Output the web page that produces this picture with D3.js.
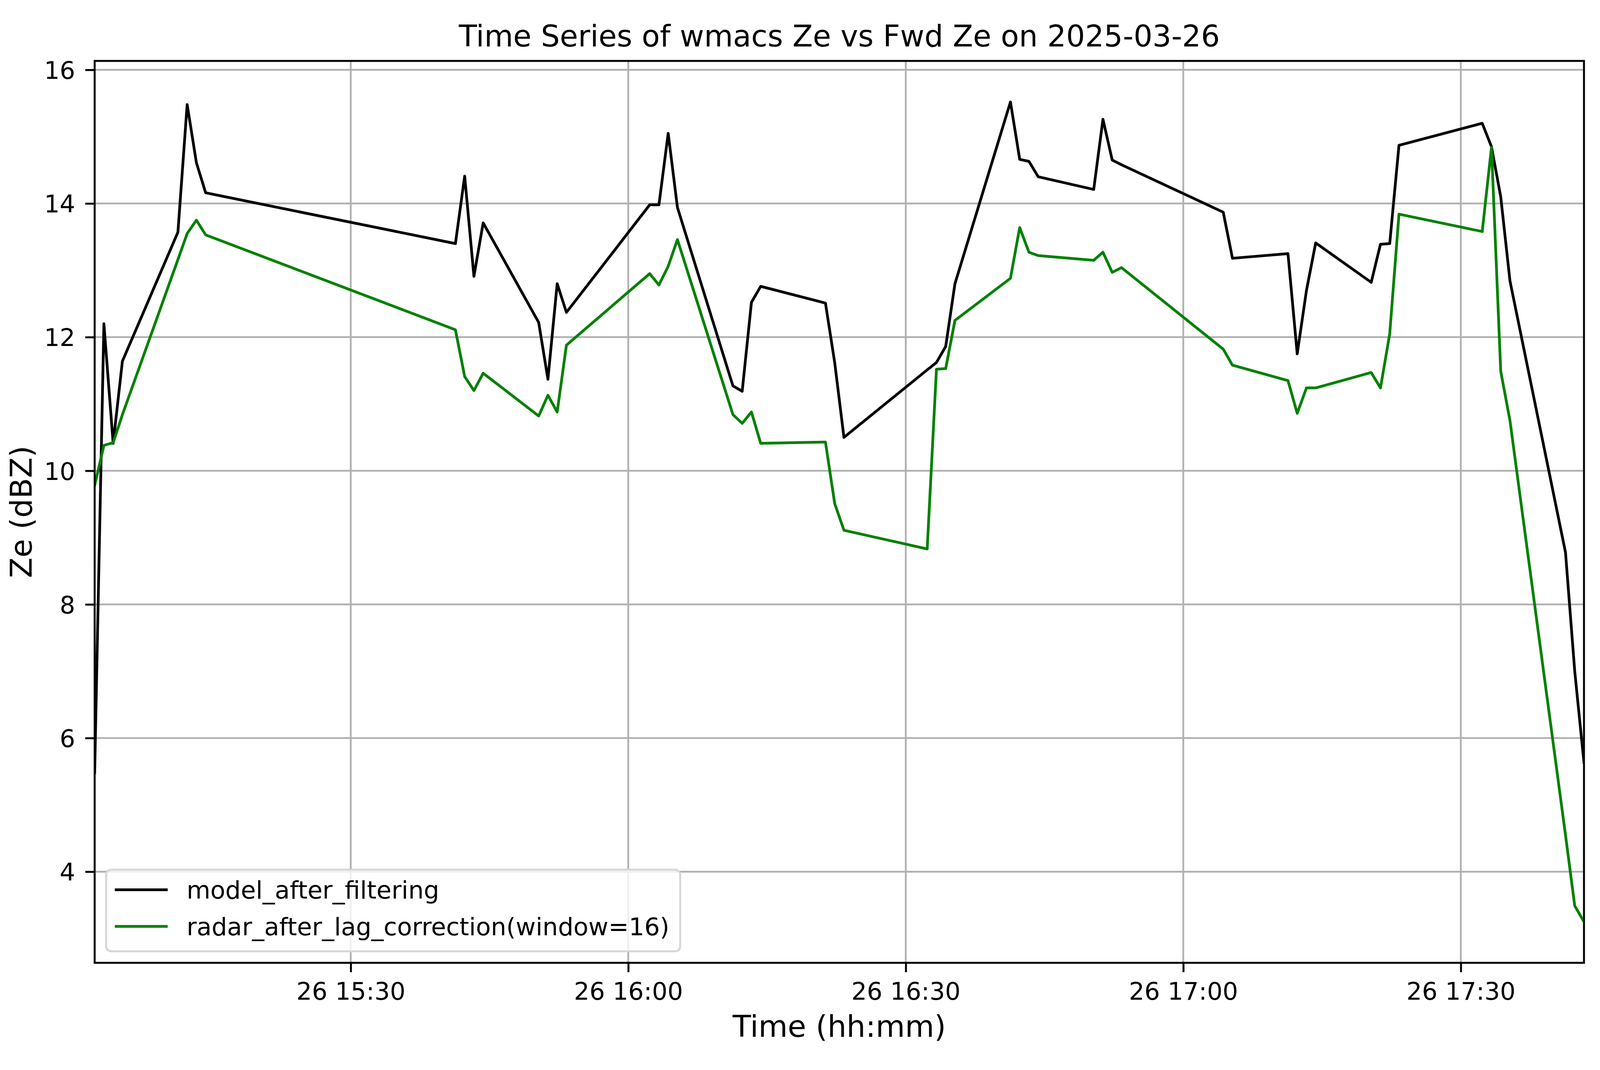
<!DOCTYPE html>
<html lang="en">

<head>
	<meta charset="UTF-8">
	<title>Time Series of wmacs Ze vs Fwd Ze on 2025-03-26</title>
	<script src="https://d3js.org/d3.v7.min.js"></script>
	<style>
		html,
		body {
			margin: 0;
			padding: 0;
			background: #fff;
			overflow: hidden;
		}

		svg {
			display: block;
		}

		svg text {
			font-family: "DejaVu Sans", sans-serif;
			fill: #000;
		}
	</style>
</head>

<body>
	<div id="chart"></div>
	<script>
		// sample times (all on 2025-03-26), shared by both series
		const times = [
			"15:02:19", "15:03:19", "15:04:19", "15:05:19", "15:11:19", "15:12:19", "15:13:19", "15:14:19",
			"15:41:19", "15:42:19", "15:43:19", "15:44:19", "15:50:19", "15:51:19", "15:52:19", "15:53:19",
			"16:02:19", "16:03:19", "16:04:19", "16:05:19", "16:11:19", "16:12:19", "16:13:19", "16:14:19",
			"16:21:19", "16:22:19", "16:23:19", "16:32:19", "16:33:19", "16:34:19", "16:35:19", "16:41:19",
			"16:42:19", "16:43:19", "16:44:19", "16:50:19", "16:51:19", "16:52:19", "16:53:19", "17:04:19",
			"17:05:19", "17:11:19", "17:12:19", "17:13:19", "17:14:19", "17:20:19", "17:21:19", "17:22:19",
			"17:23:19", "17:32:19", "17:33:19", "17:34:19", "17:35:19", "17:41:19", "17:42:19", "17:43:19"
		];

		const modelZe = [
			5.48, 12.20, 10.41, 11.64, 13.57, 15.48, 14.61, 14.16,
			13.40, 14.41, 12.91, 13.71, 12.22, 11.37, 12.80, 12.37,
			13.98, 13.98, 15.05, 13.94, 11.27, 11.19, 12.52, 12.76,
			12.51, 11.62, 10.50, 11.51, 11.62, 11.86, 12.80, 15.52,
			14.66, 14.63, 14.40, 14.21, 15.26, 14.65, 14.58, 13.87,
			13.18, 13.25, 11.75, 12.70, 13.41, 12.82, 13.39, 13.40,
			14.87, 15.20, 14.85, 14.10, 12.84, 8.78, 7.00, 5.63
		];

		const radarZe = [
			9.78, 10.38, 10.42, 10.84, 13.16, 13.55, 13.75, 13.53,
			12.11, 11.41, 11.20, 11.46, 10.82, 11.13, 10.88, 11.88,
			12.95, 12.78, 13.06, 13.46, 10.84, 10.71, 10.88, 10.41,
			10.43, 9.51, 9.11, 8.83, 11.52, 11.53, 12.25, 12.88,
			13.64, 13.27, 13.22, 13.15, 13.27, 12.97, 13.04, 11.82,
			11.58, 11.35, 10.86, 11.24, 11.24, 11.47, 11.24, 12.05,
			13.84, 13.58, 14.84, 11.49, 10.75, 4.55, 3.49, 3.25
		];

		const seriesNames = ["model_after_filtering", "radar_after_lag_correction(window=16)"];
		const seriesColors = ["#000000", "#008000"];

		const xTicks = ["15:30", "16:00", "16:30", "17:00", "17:30"];
		const yTicks = [4, 6, 8, 10, 12, 14, 16];

		// the layout was measured on a 4995 x 2740 figure; stretch it to the window
		const width = window.innerWidth || 4995;
		const height = window.innerHeight || 2740;
		const sx = width / 4995;
		const sy = height / 2740;
		const k = Math.sqrt(sx * sy); // font scale

		const tickFont = 69 * k;
		const labelFont = 85 * k;
		const titleFont = 84 * k;

		const margin = { top: 156 * sy, right: 50 * sx, bottom: 274.5 * sy, left: 295.5 * sx };
		const plotW = width - margin.left - margin.right;
		const plotH = height - margin.top - margin.bottom;

		const parseTime = d3.timeParse("%Y-%m-%d %H:%M:%S");
		const day = "2025-03-26";
		const dates = times.map(t => parseTime(`${day} ${t}`));

		const series = [modelZe, radarZe].map((vals, i) => ({
			name: seriesNames[i],
			color: seriesColors[i],
			points: vals.map((v, j) => ({ t: dates[j], v: v }))
		}));

		// x has no margin, y gets the usual 5% padding
		const x = d3.scaleTime()
			.domain(d3.extent(dates))
			.range([0, plotW]);

		const allVals = modelZe.concat(radarZe);
		const yMin = d3.min(allVals), yMax = d3.max(allVals);
		const pad = (yMax - yMin) * 0.05;
		const y = d3.scaleLinear()
			.domain([yMin - pad, yMax + pad])
			.range([plotH, 0]);

		const svg = d3.select("#chart")
			.append("svg")
			.attr("width", width)
			.attr("height", height);

		svg.append("rect")
			.attr("width", width)
			.attr("height", height)
			.attr("fill", "#fff");

		const g = svg.append("g")
			.attr("transform", `translate(${margin.left},${margin.top})`);

		g.append("clipPath")
			.attr("id", "plot-clip")
			.append("rect")
			.attr("width", plotW)
			.attr("height", plotH);

		const xTickDates = xTicks.map(t => parseTime(`${day} ${t}:00`));

		// grid
		g.append("g")
			.selectAll("line")
			.data(xTickDates)
			.enter()
			.append("line")
			.attr("x1", d => x(d))
			.attr("x2", d => x(d))
			.attr("y1", 0)
			.attr("y2", plotH)
			.attr("stroke", "#b0b0b0")
			.attr("stroke-width", 4.5);

		g.append("g")
			.selectAll("line")
			.data(yTicks)
			.enter()
			.append("line")
			.attr("x1", 0)
			.attr("x2", plotW)
			.attr("y1", d => y(d))
			.attr("y2", d => y(d))
			.attr("stroke", "#b0b0b0")
			.attr("stroke-width", 4.5);

		// series lines
		const line = d3.line()
			.x(d => x(d.t))
			.y(d => y(d.v));

		g.append("g")
			.attr("clip-path", "url(#plot-clip)")
			.selectAll("path")
			.data(series)
			.enter()
			.append("path")
			.attr("d", d => line(d.points))
			.attr("fill", "none")
			.attr("stroke", d => d.color)
			.attr("stroke-width", 7)
			.attr("stroke-linejoin", "round")
			.attr("stroke-linecap", "square");

		// axes
		const xAxis = g.append("g")
			.attr("transform", `translate(0,${plotH})`)
			.call(d3.axisBottom(x)
				.tickValues(xTickDates)
				.tickFormat(d3.timeFormat("%d %H:%M"))
				.tickSize(24)
				.tickPadding(26));

		const yAxis = g.append("g")
			.call(d3.axisLeft(y)
				.tickValues(yTicks)
				.tickFormat(d3.format("d"))
				.tickSize(24)
				.tickPadding(28.5 * k));

		[xAxis, yAxis].forEach(ax => {
			ax.select(".domain").remove();
			ax.selectAll(".tick line")
				.attr("stroke", "#000")
				.attr("stroke-width", 5);
			ax.selectAll(".tick text")
				.attr("font-size", tickFont)
				.attr("font-family", "DejaVu Sans")
				.attr("fill", "#000");
		});
		yAxis.selectAll(".tick text").attr("dy", "0.36em");

		// frame
		g.append("rect")
			.attr("width", plotW)
			.attr("height", plotH)
			.attr("fill", "none")
			.attr("stroke", "#000")
			.attr("stroke-width", 5);

		// legend, bottom left, sized from its longest label
		const legPad = 32.5 * k;
		const legH = 231 * k;
		const legend = g.append("g")
			.attr("transform", `translate(${legPad},${plotH - legPad - legH})`);

		const legBox = legend.append("rect")
			.attr("height", legH)
			.attr("rx", 14 * k)
			.attr("ry", 14 * k)
			.attr("fill", "#fff")
			.attr("fill-opacity", 0.8)
			.attr("stroke", "#d6d6d6")
			.attr("stroke-width", 5);

		const rows = legend.selectAll("g.row")
			.data(series)
			.enter()
			.append("g")
			.attr("class", "row")
			.attr("transform", (d, i) => `translate(0,${(57 + i * 103.5) * k})`);

		rows.append("line")
			.attr("x1", 24.5 * k)
			.attr("x2", 174 * k)
			.attr("stroke", d => d.color)
			.attr("stroke-width", 7);

		const legText = rows.append("text")
			.attr("x", 227.5 * k)
			.attr("y", 25 * k)
			.attr("font-size", tickFont)
			.text(d => d.name);

		let maxLen = 0;
		legText.each(function () { maxLen = Math.max(maxLen, this.getComputedTextLength()); });
		legBox.attr("width", 227.5 * k + maxLen + 30.5 * k);

		// titles
		svg.append("text")
			.attr("x", margin.left + plotW / 2)
			.attr("y", margin.top - 41 * k)
			.attr("text-anchor", "middle")
			.attr("font-size", titleFont)
			.text("Time Series of wmacs Ze vs Fwd Ze on 2025-03-26");

		const tickBase = margin.top + plotH + 48 + 0.729 * tickFont;
		svg.append("text")
			.attr("x", margin.left + plotW / 2)
			.attr("y", tickBase + 106 * k)
			.attr("text-anchor", "middle")
			.attr("font-size", labelFont)
			.text("Time (hh:mm)");

		svg.append("text")
			.attr("transform", `translate(${margin.left - 178.5 * k},${margin.top + plotH / 2}) rotate(-90)`)
			.attr("text-anchor", "middle")
			.attr("font-size", labelFont)
			.text("Ze (dBZ)");
	</script>
</body>

</html>
